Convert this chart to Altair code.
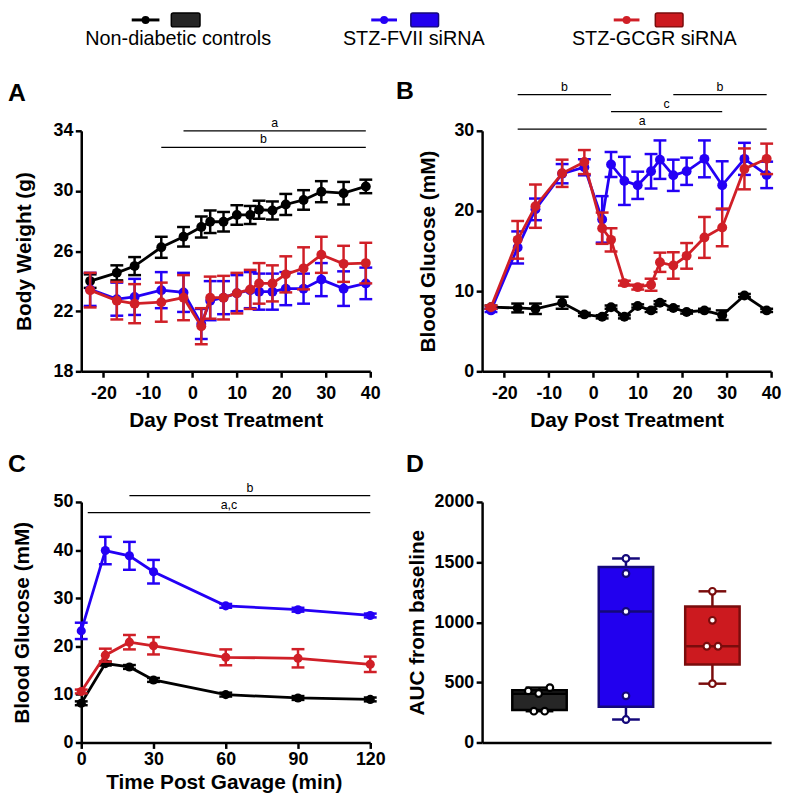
import altair as alt
import pandas as pd

FONT = "Liberation Sans"
BLACK = "#000000"
BLUE = "#2400f5"
RED = "#d01f27"

group_names = ["Non-diabetic controls", "STZ-FVII siRNA", "STZ-GCGR siRNA"]

# ---------------- Panel A: body weight (g), mean +/- SEM ----------------
day = [-23, -17, -13, -7, -2, 2, 4, 7, 10, 13, 15, 18, 21, 25, 29, 34, 39]
bw_ctrl = [24.0, 24.55, 25.0, 26.25, 26.95, 27.6, 27.95, 27.95, 28.4, 28.4, 28.75, 28.7, 29.1, 29.4, 29.95, 29.85, 30.3]
bw_ctrl_sem = [0.45, 0.5, 0.6, 0.7, 0.65, 0.7, 0.75, 0.65, 0.65, 0.6, 0.6, 0.6, 0.7, 0.65, 0.7, 0.75, 0.45]
bw_fvii = [23.45, 22.8, 22.95, 23.4, 23.25, 21.15, 22.7, 22.9, 23.2, 23.4, 23.3, 23.3, 23.5, 23.5, 24.1, 23.5, 23.85]
bw_fvii_sem = [1.1, 1.1, 1.2, 1.2, 1.3, 1.0, 1.3, 1.1, 1.2, 1.2, 1.2, 1.2, 1.1, 1.0, 1.1, 1.15, 1.05]
bw_gcgr = [23.4, 22.7, 22.5, 22.6, 22.9, 21.0, 22.9, 22.9, 23.2, 23.45, 23.85, 23.85, 24.45, 24.85, 25.75, 25.15, 25.2]
bw_gcgr_sem = [1.15, 1.25, 1.3, 1.3, 1.5, 1.2, 1.4, 1.45, 1.35, 1.3, 1.35, 1.2, 1.2, 1.4, 1.2, 1.2, 1.35]

# ---------------- Panel B: blood glucose (mM), mean +/- SEM ----------------
bg_ctrl = [8.0, 7.9, 7.8, 8.55, 7.1, 6.8, 8.0, 6.8, 8.15, 7.6, 8.55, 7.9, 7.4, 7.6, 7.0, 9.45, 7.6]
bg_ctrl_sem = [0.2, 0.55, 0.65, 0.75, 0.2, 0.2, 0.2, 0.2, 0.2, 0.2, 0.2, 0.2, 0.2, 0.2, 0.6, 0.2, 0.2]
bg_fvii = [7.6, 15.45, 20.2, 24.65, 25.45, 18.95, 25.8, 23.75, 23.2, 24.95, 26.4, 24.45, 24.95, 26.5, 23.2, 26.5, 24.5]
bg_fvii_sem = [0.2, 2.0, 1.35, 1.2, 1.0, 2.9, 1.55, 3.0, 1.7, 2.15, 2.4, 1.95, 1.7, 2.3, 3.0, 2.0, 1.65]
bg_gcgr = [8.0, 16.4, 20.6, 24.7, 26.1, 17.85, 16.4, 11.0, 10.5, 10.8, 13.6, 13.2, 14.4, 16.7, 17.95, 25.25, 26.5]
bg_gcgr_sem = [0.2, 2.35, 2.7, 1.7, 1.5, 1.95, 1.45, 0.3, 0.3, 0.75, 1.2, 1.65, 1.6, 2.55, 2.35, 2.55, 1.9]

# ---------------- Panel C: OGTT blood glucose (mM) ----------------
minutes = [0, 10, 20, 30, 60, 90, 120]
gt_ctrl = [8.15, 16.4, 15.7, 13.0, 9.95, 9.25, 8.95]
gt_ctrl_sem = [0.4, 0.4, 0.4, 0.4, 0.4, 0.4, 0.4]
gt_fvii = [23.2, 39.9, 38.8, 35.5, 28.4, 27.6, 26.4]
gt_fvii_sem = [1.7, 2.85, 2.9, 2.45, 0.4, 0.4, 0.4]
gt_gcgr = [10.6, 18.15, 20.85, 20.1, 17.7, 17.5, 16.25]
gt_gcgr_sem = [0.4, 1.35, 1.5, 1.8, 1.65, 1.9, 1.6]

# ---------------- Panel D: AUC from baseline ----------------
auc_min = [260, 191, 489]
auc_q1 = [270, 298, 648]
auc_med = [405, 1090, 800]
auc_q3 = [434, 1459, 1130]
auc_max = [456, 1530, 1257]
auc_ctrl = [429, 407, 456, 260, 260]
auc_fvii = [1530, 1405, 1090, 388, 191]
auc_gcgr = [1257, 1016, 800, 800, 489]
auc_ctrl_jitter = [-0.13, -0.01, 0.12, -0.065, 0.06]
auc_fvii_jitter = [0, 0, 0, 0, 0]
auc_gcgr_jitter = [0, 0, -0.065, 0.065, 0]

# significance bars: (start, end, height, label)
sig_A = [(-2, 39, 34.0, "a"), (-7, 39, 32.9, "b")]
sig_B = [(-17, 4, 34.5, "b"), (18, 39, 34.5, "b"), (4, 29, 32.4, "c"), (-17, 39, 30.2, "a")]
sig_C = [(20, 120, 51.3, "b"), (2.7, 120, 47.8, "a,c")]

W, H = 292, 243


def one():
    return alt.Chart(pd.DataFrame({"k": [0]}))


def series_layers(x, y, sem, color, X, ys, yax, size, cap):
    df = pd.DataFrame({"x": x, "y": y,
                       "lo": [a - b for a, b in zip(y, sem)],
                       "hi": [a + b for a, b in zip(y, sem)]})
    base = alt.Chart(df)

    def Y(f):
        return alt.Y(f"{f}:Q", scale=ys, axis=yax)

    rule = base.mark_rule(color=color, strokeWidth=2.5).encode(x=X, y=Y("lo"), y2="hi:Q")
    cl = base.mark_tick(color=color, orient="horizontal", size=cap, thickness=2.5, opacity=1).encode(x=X, y=Y("lo"))
    ch = base.mark_tick(color=color, orient="horizontal", size=cap, thickness=2.5, opacity=1).encode(x=X, y=Y("hi"))
    line = base.mark_line(color=color, strokeWidth=2.8).encode(x=X, y=Y("y"))
    pts = base.mark_circle(color=color, size=size, opacity=1).encode(x=X, y=Y("y"))
    return [rule, cl, ch, line, pts]


def sig_layers(sig, xs, xax, ys, yax):
    df = pd.DataFrame(sig, columns=["x1", "x2", "y", "label"])
    df["xm"] = (df["x1"] + df["x2"]) / 2
    rule = alt.Chart(df).mark_rule(color="black", strokeWidth=1.3).encode(
        x=alt.X("x1:Q", scale=xs, axis=xax), x2="x2:Q", y=alt.Y("y:Q", scale=ys, axis=yax))
    txt = alt.Chart(df).mark_text(font=FONT, fontSize=12.5, dy=-4, baseline="alphabetic",
                                  align="center", color="black").encode(
        x=alt.X("xm:Q", scale=xs, axis=xax), y=alt.Y("y:Q", scale=ys, axis=yax), text="label:N")
    return [rule, txt]


def letter(t, x, y):
    return one().mark_text(text=t, font=FONT, fontSize=25, fontWeight="bold", align="left",
                           baseline="alphabetic", color="black").encode(x=alt.value(x), y=alt.value(y))


def xaxis(values, title, lp, ty, tx=146):
    return alt.Axis(values=values, title=title, labelExpr="toString(datum.value)", labelPadding=lp,
                    labelFlush=False, labelOverlap=False, titleX=tx, titleY=ty, titleAlign="center",
                    titleBaseline="alphabetic")


def yaxis(values, title, tx):
    return alt.Axis(values=values, title=title, labelExpr="toString(datum.value)", labelPadding=2.5,
                    labelOverlap=False, titleX=tx, titleY=H / 2, titleAngle=270, titleAlign="center",
                    titleBaseline="middle")


# ---------------- Panel A ----------------
xsA = alt.Scale(domain=[-25, 40], nice=False, zero=False, padding=0)
ysA = alt.Scale(domain=[18, 34], nice=False, zero=False, padding=0)
xaxA = xaxis([-20, -10, 0, 10, 20, 30, 40], "Day Post Treatment", 7, 56)
yaxA = yaxis([18, 22, 26, 30, 34], "Body Weight (g)", -57)
XA = alt.X("x:Q", scale=xsA, axis=xaxA)
layersA = []
layersA += series_layers(day, bw_ctrl, bw_ctrl_sem, BLACK, XA, ysA, yaxA, 100, 13)
layersA += series_layers(day, bw_fvii, bw_fvii_sem, BLUE, XA, ysA, yaxA, 100, 13)
layersA += series_layers(day, bw_gcgr, bw_gcgr_sem, RED, XA, ysA, yaxA, 100, 13)
layersA += sig_layers(sig_A, xsA, xaxA, ysA, yaxA)
layersA.append(letter("A", -74, -30))

# legend (drawn relative to panel A)
legend_layout = [
    # label, line colour, box fill, box stroke, line x1, line x2, dot x, box x1, box x2, text x
    (group_names[0], BLACK, "#262626", "#000000", 51, 79, 65, 91, 120, 98),
    (group_names[1], BLUE, "#2200ee", "#14087a", 293, 319, 306, 333, 361, 336),
    (group_names[2], RED, "#cc1a1f", "#7a0c0c", 538, 564, 551, 580, 608, 579),
]
for lab, col, fill, stroke, lx1, lx2, dx, bx1, bx2, tx in legend_layout:
    layersA.append(one().mark_rule(color=col, strokeWidth=3).encode(
        x=alt.value(lx1), x2=alt.value(lx2), y=alt.value(-112)))
    layersA.append(one().mark_circle(color=col, size=64, opacity=1).encode(
        x=alt.value(dx), y=alt.value(-112)))
    layersA.append(one().mark_rect(fill=fill, stroke=stroke, strokeWidth=1.5, cornerRadius=2).encode(
        x=alt.value(bx1), x2=alt.value(bx2), y=alt.value(-119), y2=alt.value(-105)))
    layersA.append(one().mark_text(text=lab, font=FONT, fontSize=20, align="center",
                                   baseline="alphabetic", color="black").encode(
        x=alt.value(tx), y=alt.value(-87)))

pA = alt.layer(*layersA).properties(width=W, height=H)

# ---------------- Panel B ----------------
xsB = alt.Scale(domain=[-25, 40], nice=False, zero=False, padding=0)
ysB = alt.Scale(domain=[0, 30], nice=False, zero=False, padding=0)
xaxB = xaxis([-20, -10, 0, 10, 20, 30, 40], "Day Post Treatment", 7, 56)
yaxB = yaxis([0, 10, 20, 30], "Blood Glucose (mM)", -54.5)
XB = alt.X("x:Q", scale=xsB, axis=xaxB)
layersB = []
layersB += series_layers(day, bg_ctrl, bg_ctrl_sem, BLACK, XB, ysB, yaxB, 100, 13)
layersB += series_layers(day, bg_fvii, bg_fvii_sem, BLUE, XB, ysB, yaxB, 100, 13)
layersB += series_layers(day, bg_gcgr, bg_gcgr_sem, RED, XB, ysB, yaxB, 100, 13)
layersB += sig_layers(sig_B, xsB, xaxB, ysB, yaxB)
layersB.append(letter("B", -87, -32))
pB = alt.layer(*layersB).properties(width=W, height=H)

# ---------------- Panel C ----------------
xsC = alt.Scale(domain=[0, 120], nice=False, zero=False, padding=0)
ysC = alt.Scale(domain=[0, 50], nice=False, zero=False, padding=0)
xaxC = xaxis([0, 30, 60, 90, 120], "Time Post Gavage (min)", 2, 46, tx=144)
yaxC = yaxis([0, 10, 20, 30, 40, 50], "Blood Glucose (mM)", -59)
XC = alt.X("x:Q", scale=xsC, axis=xaxC)
layersC = []
layersC += series_layers(minutes, gt_ctrl, gt_ctrl_sem, BLACK, XC, ysC, yaxC, 85, 13)
layersC += series_layers(minutes, gt_fvii, gt_fvii_sem, BLUE, XC, ysC, yaxC, 85, 13)
layersC += series_layers(minutes, gt_gcgr, gt_gcgr_sem, RED, XC, ysC, yaxC, 85, 13)
layersC += sig_layers(sig_C, xsC, xaxC, ysC, yaxC)
layersC.append(letter("C", -74, -30))
pC = alt.layer(*layersC).properties(width=W, height=H)

# ---------------- Panel D ----------------
xsD = alt.Scale(domain=[-0.664, 2.679], nice=False, zero=False, padding=0)
ysD = alt.Scale(domain=[0, 2000], nice=False, zero=False, padding=0)
xaxD = alt.Axis(labels=False, ticks=False, title="", domain=True)
yaxD = yaxis([0, 500, 1000, 1500, 2000], "AUC from baseline", -65)
fill_scale = alt.Scale(domain=group_names, range=["#262626", "#2200ee", "#cc1a1f"])
dark_scale = alt.Scale(domain=group_names, range=["#000000", "#14087a", "#7a0c0c"])

box_df = pd.DataFrame({"g": group_names, "i": [0, 1, 2], "lo": auc_min, "q1": auc_q1,
                       "med": auc_med, "q3": auc_q3, "hi": auc_max})
pt_rows = []
for gi, (vals, jit) in enumerate([(auc_ctrl, auc_ctrl_jitter), (auc_fvii, auc_fvii_jitter),
                                  (auc_gcgr, auc_gcgr_jitter)]):
    for v, j in zip(vals, jit):
        pt_rows.append({"g": group_names[gi], "xp": gi + j, "v": v})
pt_df = pd.DataFrame(pt_rows)

XD = alt.X("i:Q", scale=xsD, axis=xaxD)


def YD(f):
    return alt.Y(f"{f}:Q", scale=ysD, axis=yaxD)


dark_color = alt.Color("g:N", scale=dark_scale, legend=None)
bD = alt.Chart(box_df)
whisk = bD.mark_rule(strokeWidth=2.5).encode(x=XD, y=YD("lo"), y2="hi:Q", color=dark_color)
cap_lo = bD.mark_tick(orient="horizontal", size=28, thickness=2.5, opacity=1).encode(x=XD, y=YD("lo"), color=dark_color)
cap_hi = bD.mark_tick(orient="horizontal", size=28, thickness=2.5, opacity=1).encode(x=XD, y=YD("hi"), color=dark_color)
box = bD.mark_bar(size=55, strokeWidth=2.5).encode(
    x=XD, y=YD("q1"), y2="q3:Q",
    fill=alt.Fill("g:N", scale=fill_scale, legend=None),
    stroke=alt.Stroke("g:N", scale=dark_scale, legend=None))
med = bD.mark_tick(orient="horizontal", size=55, thickness=2.5, opacity=1).encode(x=XD, y=YD("med"), color=dark_color)
pts = alt.Chart(pt_df).mark_point(shape="circle", filled=True, fill="white", size=45, strokeWidth=2.2,
                                  opacity=1).encode(
    x=alt.X("xp:Q", scale=xsD, axis=xaxD), y=YD("v"),
    stroke=alt.Stroke("g:N", scale=dark_scale, legend=None))
pD = alt.layer(whisk, cap_lo, cap_hi, box, med, pts, letter("D", -77, -30)).properties(width=W, height=H)

chart = alt.concat(pA, pB, pC, pD, columns=2, spacing={"row": 132, "column": 113},
                   bounds="flush").properties(padding=0).configure_view(stroke=None).configure_axis(
    domainColor="black", domainWidth=2.5, tickColor="black", tickWidth=2.5, tickSize=6,
    labelFont=FONT, labelFontSize=18, labelFontWeight="bold", labelColor="black",
    titleFont=FONT, titleFontSize=21, titleFontWeight="bold", titleColor="black", grid=False)

chart.save("out.html", embed_options={"renderer": "svg", "actions": False})
